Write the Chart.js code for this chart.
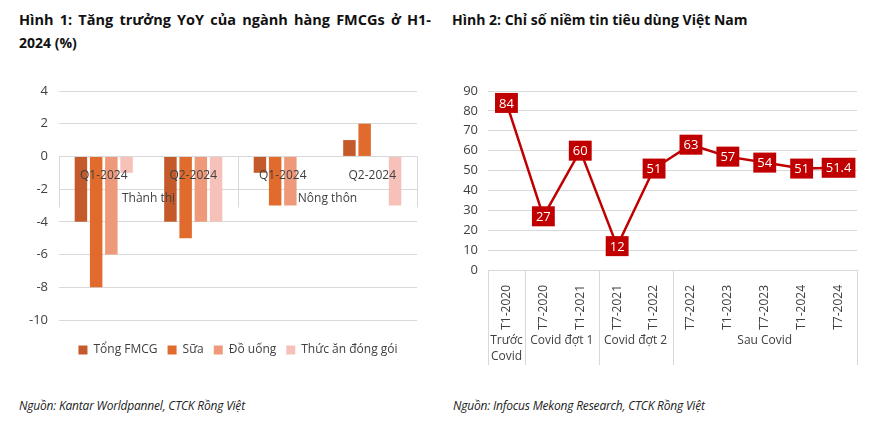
<!DOCTYPE html>
<html>
<head>
<meta charset="utf-8">
<script src="https://cdn.jsdelivr.net/npm/chart.js@4.4.1/dist/chart.umd.min.js"></script>
<style>
  body { margin: 0; background: #fff; width: 883px; height: 426px; position: relative; overflow: hidden; font-family: "Open Sans", sans-serif; }
  .title { position: absolute; font-weight: bold; font-size: 14px; color: #111; line-height: 23px; white-space: nowrap; }
  .just { text-align: justify; text-align-last: justify; white-space: normal; width: 412px; font-size: 14.5px; }
  .src { position: absolute; top: 397px; font-style: italic; font-size: 12px; letter-spacing: -0.2px; color: #222; white-space: nowrap; }
  canvas { position: absolute; }
</style>
</head>
<body>
<div class="title just" style="left:19px; top:8px;">Hình 1: Tăng trưởng YoY của ngành hàng FMCGs ở H1-</div>
<div class="title" style="left:19px; top:31px;">2024 (%)</div>
<div class="title" style="left:452px; top:8px;">Hình 2: Chỉ số niềm tin tiêu dùng Việt Nam</div>
<canvas id="fmcgChart" width="440" height="290" style="left:0; top:80px;"></canvas>
<canvas id="cciChart" width="443" height="290" style="left:440px; top:80px;"></canvas>
<div class="src" style="left:19px;">Nguồn: Kantar Worldpannel, CTCK Rồng Việt</div>
<div class="src" style="left:453px;">Nguồn: Infocus Mekong Research, CTCK Rồng Việt</div>

<script>
// Hình 1 data
const quarters = ['Q1-2024', 'Q2-2024', 'Q1-2024', 'Q2-2024'];
const areas = ['Thành thị', 'Nông thôn'];
const tongFmcg = [-4, -4, -1, 1];
const sua = [-8, -5, -3, 2];
const doUong = [-6, -4, -3, 0];
const thucAn = [-1, -4, 0, -3];

// Hình 2 data
const periods = ['T1-2020', 'T7-2020', 'T1-2021', 'T7-2021', 'T1-2022', 'T7-2022', 'T1-2023', 'T7-2023', 'T1-2024', 'T7-2024'];
const cciValues = [84, 27, 60, 12, 51, 63, 57, 54, 51, 51.4];
const phaseNames = ['Trước Covid', 'Covid đợt 1', 'Covid đợt 2', 'Sau Covid'];
const phaseSpans = [[0, 0], [1, 2], [3, 4], [5, 9]];

const FONT = '"Open Sans", sans-serif';
const TEXT = '#404040';
const GRID = '#d9d9d9';

// category + group labels sitting on the zero line
const fmcgLabels = {
    id: 'fmcgLabels',
    afterDatasetsDraw(chart) {
        const { ctx, scales: { x, y } } = chart;
        const y0 = y.getPixelForValue(0);
        const step = x.getPixelForValue(1) - x.getPixelForValue(0);
        ctx.save();
        ctx.font = '12px ' + FONT;
        ctx.fillStyle = TEXT;
        ctx.textAlign = 'center';
        ctx.textBaseline = 'middle';
        quarters.forEach((q, i) => ctx.fillText(q, x.getPixelForValue(i), y0 + 19));
        areas.forEach((a, j) => {
            const cx = (x.getPixelForValue(j * 2) + x.getPixelForValue(j * 2 + 1)) / 2;
            ctx.fillText(a, cx, y0 + 42);
        });
        ctx.strokeStyle = GRID;
        ctx.lineWidth = 1;
        [0, 2, 4].forEach(k => {
            const px = Math.round(x.getPixelForValue(k) - step / 2) + 0.5;
            ctx.beginPath();
            ctx.moveTo(px, y0);
            ctx.lineTo(px, y0 + 51);
            ctx.stroke();
        });
        ctx.restore();
    }
};

new Chart(document.getElementById('fmcgChart'), {
    type: 'bar',
    data: {
        labels: quarters,
        datasets: [
            { label: 'Tổng FMCG', data: tongFmcg, backgroundColor: '#C45A2A' },
            { label: 'Sữa', data: sua, backgroundColor: '#E06B2C' },
            { label: 'Đồ uống', data: doUong, backgroundColor: '#EE9A7A' },
            { label: 'Thức ăn đóng gói', data: thucAn, backgroundColor: '#F5C1B8' }
        ]
    },
    options: {
        responsive: false,
        animation: false,
        layout: { padding: { top: 11, left: 0, right: 23, bottom: 4 } },
        datasets: { bar: { categoryPercentage: 0.68, barPercentage: 0.82 } },
        scales: {
            x: {
                grid: { display: false },
                border: { display: false },
                ticks: { display: false },
                afterFit: s => { s.height = 14; }
            },
            y: {
                min: -10,
                max: 4,
                ticks: { stepSize: 2, color: TEXT, font: { family: FONT, size: 13 }, padding: 0 },
                grid: { color: GRID, tickLength: 11, tickColor: 'rgba(0,0,0,0)' },
                border: { display: false },
                afterFit: s => { s.width = 59; }
            }
        },
        plugins: {
            tooltip: { enabled: false },
            legend: {
                position: 'bottom',
                fullSize: false,
                labels: { boxWidth: 9, boxHeight: 9, padding: 10, color: TEXT, font: { family: FONT, size: 12 } }
            }
        }
    },
    plugins: [fmcgLabels]
});

// phase cells under the x axis + value boxes on the line
const cciDecor = {
    id: 'cciDecor',
    afterDatasetsDraw(chart) {
        const { ctx, scales: { x, y } } = chart;
        const y0 = y.getPixelForValue(0);
        const step = x.getPixelForValue(1) - x.getPixelForValue(0);
        ctx.save();
        ctx.strokeStyle = GRID;
        ctx.lineWidth = 1;
        const edges = [0].concat(phaseSpans.map(s => s[1] + 1));
        edges.forEach(k => {
            const px = Math.round(x.getPixelForValue(k) - step / 2) + 0.5;
            ctx.beginPath();
            ctx.moveTo(px, y0);
            ctx.lineTo(px, y0 + 95);
            ctx.stroke();
        });
        ctx.font = '12px ' + FONT;
        ctx.fillStyle = TEXT;
        ctx.textAlign = 'center';
        ctx.textBaseline = 'middle';
        phaseNames.forEach((name, i) => {
            const [a, b] = phaseSpans[i];
            const cx = (x.getPixelForValue(a) + x.getPixelForValue(b)) / 2;
            const cellW = (b - a + 1) * step - 4;
            const lines = ctx.measureText(name).width > cellW ? name.split(' ') : [name];
            lines.forEach((ln, j) => ctx.fillText(ln, cx, y0 + 71 + j * 16));
        });

        // value boxes
        const meta = chart.getDatasetMeta(0);
        ctx.font = '13px ' + FONT;
        meta.data.forEach((pt, i) => {
            const txt = String(cciValues[i]);
            const w = ctx.measureText(txt).width + 8;
            ctx.fillStyle = '#C00000';
            ctx.fillRect(pt.x - w / 2, pt.y - 10, w, 20);
            ctx.fillStyle = '#fff';
            ctx.fillText(txt, pt.x, pt.y + 1);
        });
        ctx.restore();
    }
};

new Chart(document.getElementById('cciChart'), {
    type: 'line',
    data: {
        labels: periods,
        datasets: [{
            data: cciValues,
            borderColor: '#C00000',
            borderWidth: 2.5,
            pointRadius: 0,
            tension: 0
        }]
    },
    options: {
        responsive: false,
        animation: false,
        layout: { padding: { top: 11, left: 0, right: 26, bottom: 0 } },
        scales: {
            x: {
                offset: true,
                grid: { display: false },
                border: { display: false },
                ticks: { minRotation: 90, maxRotation: 90, padding: 7, color: TEXT, font: { family: FONT, size: 12 } },
                afterFit: s => { s.height = 100; }
            },
            y: {
                min: 0,
                max: 90,
                ticks: { stepSize: 10, color: TEXT, font: { family: FONT, size: 13 }, padding: 0 },
                grid: { color: GRID, tickLength: 10, tickColor: 'rgba(0,0,0,0)' },
                border: { display: false },
                afterFit: s => { s.width = 48; }
            }
        },
        plugins: {
            tooltip: { enabled: false },
            legend: { display: false }
        }
    },
    plugins: [cciDecor]
});
</script>
</body>
</html>
